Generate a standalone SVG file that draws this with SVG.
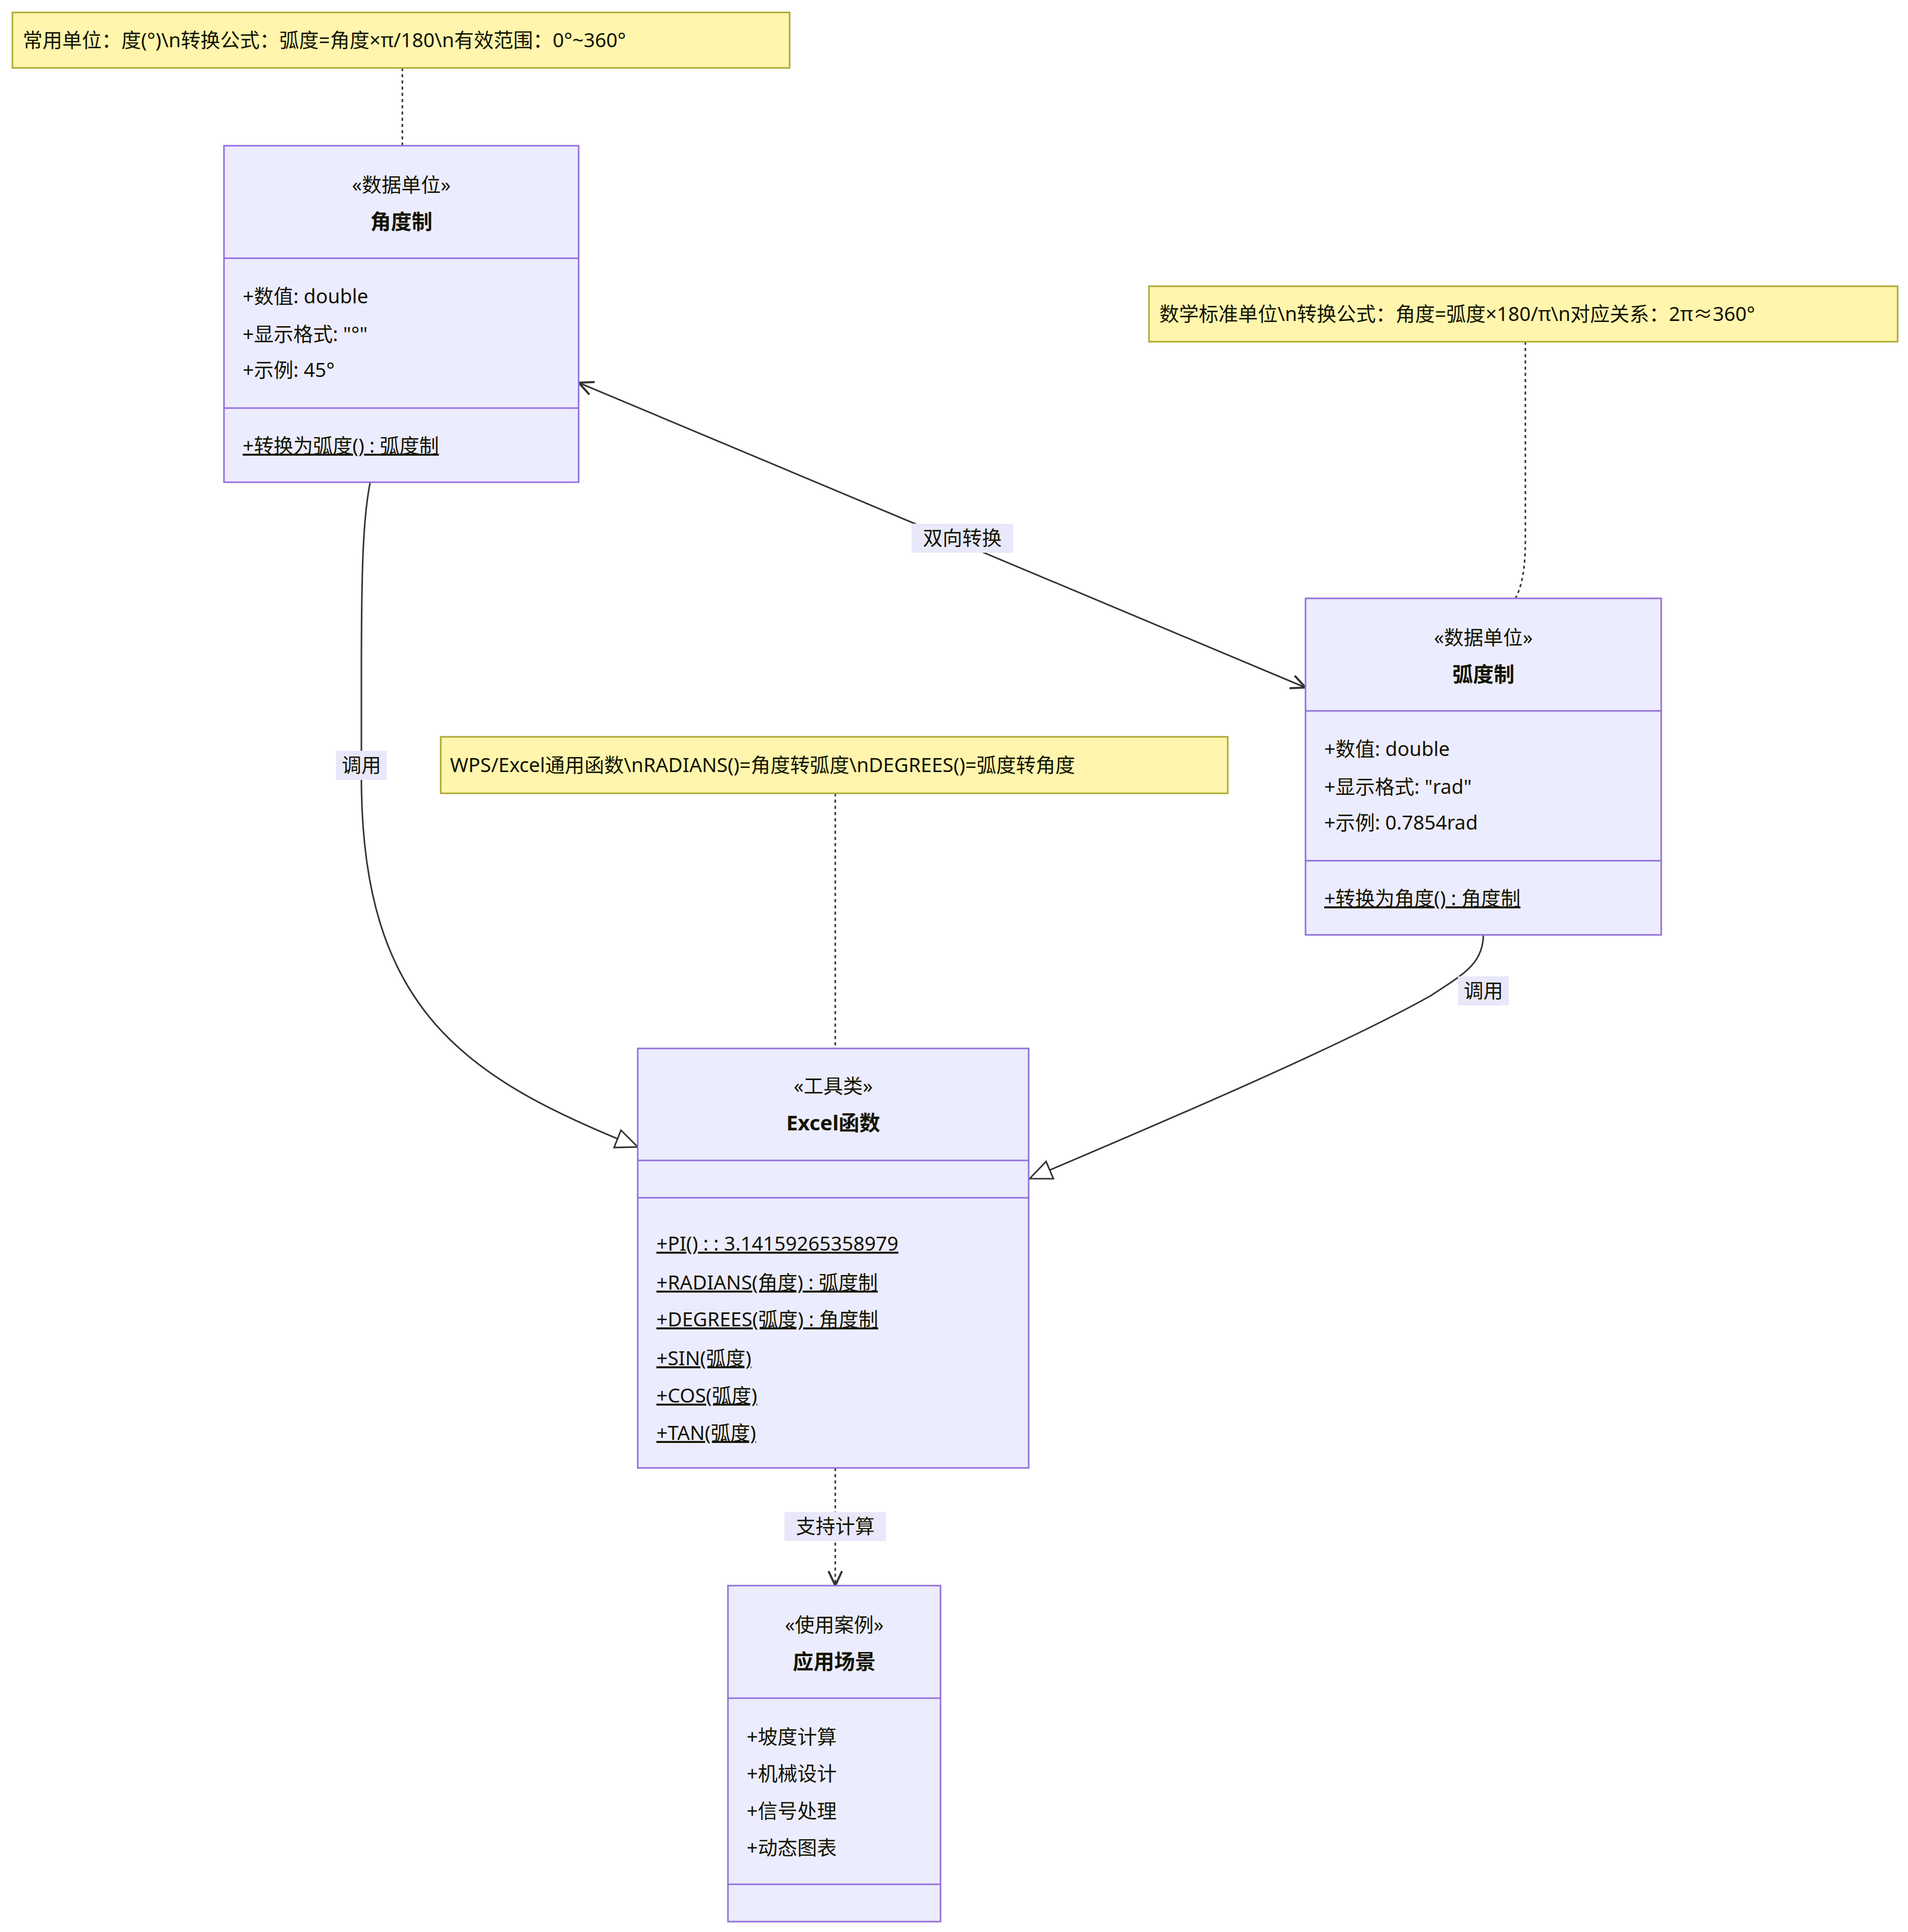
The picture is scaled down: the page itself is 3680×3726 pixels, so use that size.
<svg xmlns="http://www.w3.org/2000/svg" width="3680" height="3726" viewBox="0 0 3680 3726">
<style>
text{font-family:"Noto Sans","Noto Sans CJK SC",sans-serif;font-size:38px;fill:#131300}
.box{fill:#ECECFF;stroke:#9370DB;stroke-width:3}
.div{stroke:#9370DB;stroke-width:3}
.note{fill:#FFF5AD;stroke:#AAAA33;stroke-width:3}
.c{text-anchor:middle}
.b{font-weight:bold;font-size:40px}
.u{text-decoration:underline}
.e{fill:none;stroke:#333;stroke-width:3}
.d{stroke-dasharray:6 6}
.lb{fill:#e8e8fa}
</style>
<defs>
<marker id="tri" markerUnits="userSpaceOnUse" markerWidth="50" markerHeight="50" refX="44" refY="20" orient="auto"><path d="M2,2 L44,20 L2,38 Z" fill="#fff" stroke="#333" stroke-width="3"/></marker>
<marker id="open" markerUnits="userSpaceOnUse" markerWidth="40" markerHeight="40" refX="30" refY="15" orient="auto-start-reverse"><path d="M2,2 L30,15 L2,28" fill="none" stroke="#333" stroke-width="4"/></marker>
</defs>
<g id="connectors">
<path class="e d" d="M776,131 L776,281"/>
<path class="e d" d="M2942,659 L2942,1040 C2942,1100 2935,1130 2923,1154"/>
<path class="e d" d="M1611,1530 L1611,2022"/>
<path class="e" d="M1116,738 L2518,1326" marker-start="url(#open)" marker-end="url(#open)"/>
<path class="e" d="M714,930 C700,1000 697,1100 697,1300 L697,1500 C697,1950 900,2080 1230,2212" marker-end="url(#tri)"/>
<path class="e" d="M2861,1802 C2861,1860 2820,1880 2760,1920 C2600,2010 2300,2140 1986,2273" marker-end="url(#tri)"/>
<path class="e d" d="M1611,2831 L1611,3058" marker-end="url(#open)"/>
<rect class="lb" x="1758" y="1010" width="196" height="56"/><text class="c" x="1856" y="1051">双向转换</text>
<rect class="lb" x="648" y="1448" width="98" height="56"/><text class="c" x="697" y="1489">调用</text>
<rect class="lb" x="2812" y="1883" width="98" height="56"/><text class="c" x="2861" y="1924">调用</text>
<rect class="lb" x="1513" y="2916" width="196" height="56"/><text class="c" x="1611" y="2957">支持计算</text>
</g>
<g id="note1"><rect class="note" x="24" y="24" width="1499" height="107"/><text x="44" y="91">常用单位：度(°)\n转换公式：弧度=角度×π/180\n有效范围：0°~360°</text></g>
<g id="note2"><rect class="note" x="2216" y="552" width="1444" height="107"/><text x="2236" y="619">数学标准单位\n转换公式：角度=弧度×180/π\n对应关系：2π≈360°</text></g>
<g id="note3"><rect class="note" x="850" y="1421" width="1518" height="109"/><text x="868" y="1489">WPS/Excel通用函数\nRADIANS()=角度转弧度\nDEGREES()=弧度转角度</text></g>
<g id="angle">
<rect class="box" x="432" y="281" width="684" height="649"/>
<line class="div" x1="432" y1="498" x2="1116" y2="498"/><line class="div" x1="432" y1="787" x2="1116" y2="787"/>
<text class="c" x="774" y="370">«数据单位»</text><text class="c b" x="774" y="442">角度制</text>
<text x="468" y="585">+数值: double</text><text x="468" y="658">+显示格式: "°"</text><text x="468" y="727">+示例: 45°</text>
<text class="u" x="468" y="873">+转换为弧度() : 弧度制</text>
</g>
<g id="radian">
<rect class="box" x="2518" y="1154" width="686" height="649"/>
<line class="div" x1="2518" y1="1371" x2="3204" y2="1371"/><line class="div" x1="2518" y1="1660" x2="3204" y2="1660"/>
<text class="c" x="2861" y="1243">«数据单位»</text><text class="c b" x="2861" y="1315">弧度制</text>
<text x="2554" y="1458">+数值: double</text><text x="2554" y="1531">+显示格式: "rad"</text><text x="2554" y="1600">+示例: 0.7854rad</text>
<text class="u" x="2554" y="1746">+转换为角度() : 角度制</text>
</g>
<g id="excel">
<rect class="box" x="1230" y="2022" width="754" height="809"/>
<line class="div" x1="1230" y1="2238" x2="1984" y2="2238"/><line class="div" x1="1230" y1="2310" x2="1984" y2="2310"/>
<text class="c" x="1607" y="2108">«工具类»</text><text class="c b" x="1607" y="2180">Excel函数</text>
<text class="u" x="1266" y="2412">+PI() : : 3.14159265358979</text>
<text class="u" x="1266" y="2487">+RADIANS(角度) : 弧度制</text>
<text class="u" x="1266" y="2558">+DEGREES(弧度) : 角度制</text>
<text class="u" x="1266" y="2633">+SIN(弧度)</text>
<text class="u" x="1266" y="2705">+COS(弧度)</text>
<text class="u" x="1266" y="2777">+TAN(弧度)</text>
</g>
<g id="apply">
<rect class="box" x="1404" y="3058" width="410" height="648"/>
<line class="div" x1="1404" y1="3275" x2="1814" y2="3275"/><line class="div" x1="1404" y1="3634" x2="1814" y2="3634"/>
<text class="c" x="1609" y="3147">«使用案例»</text><text class="c b" x="1609" y="3219">应用场景</text>
<text x="1440" y="3363">+坡度计算</text><text x="1440" y="3434">+机械设计</text><text x="1440" y="3506">+信号处理</text><text x="1440" y="3577">+动态图表</text>
</g>
</svg>
